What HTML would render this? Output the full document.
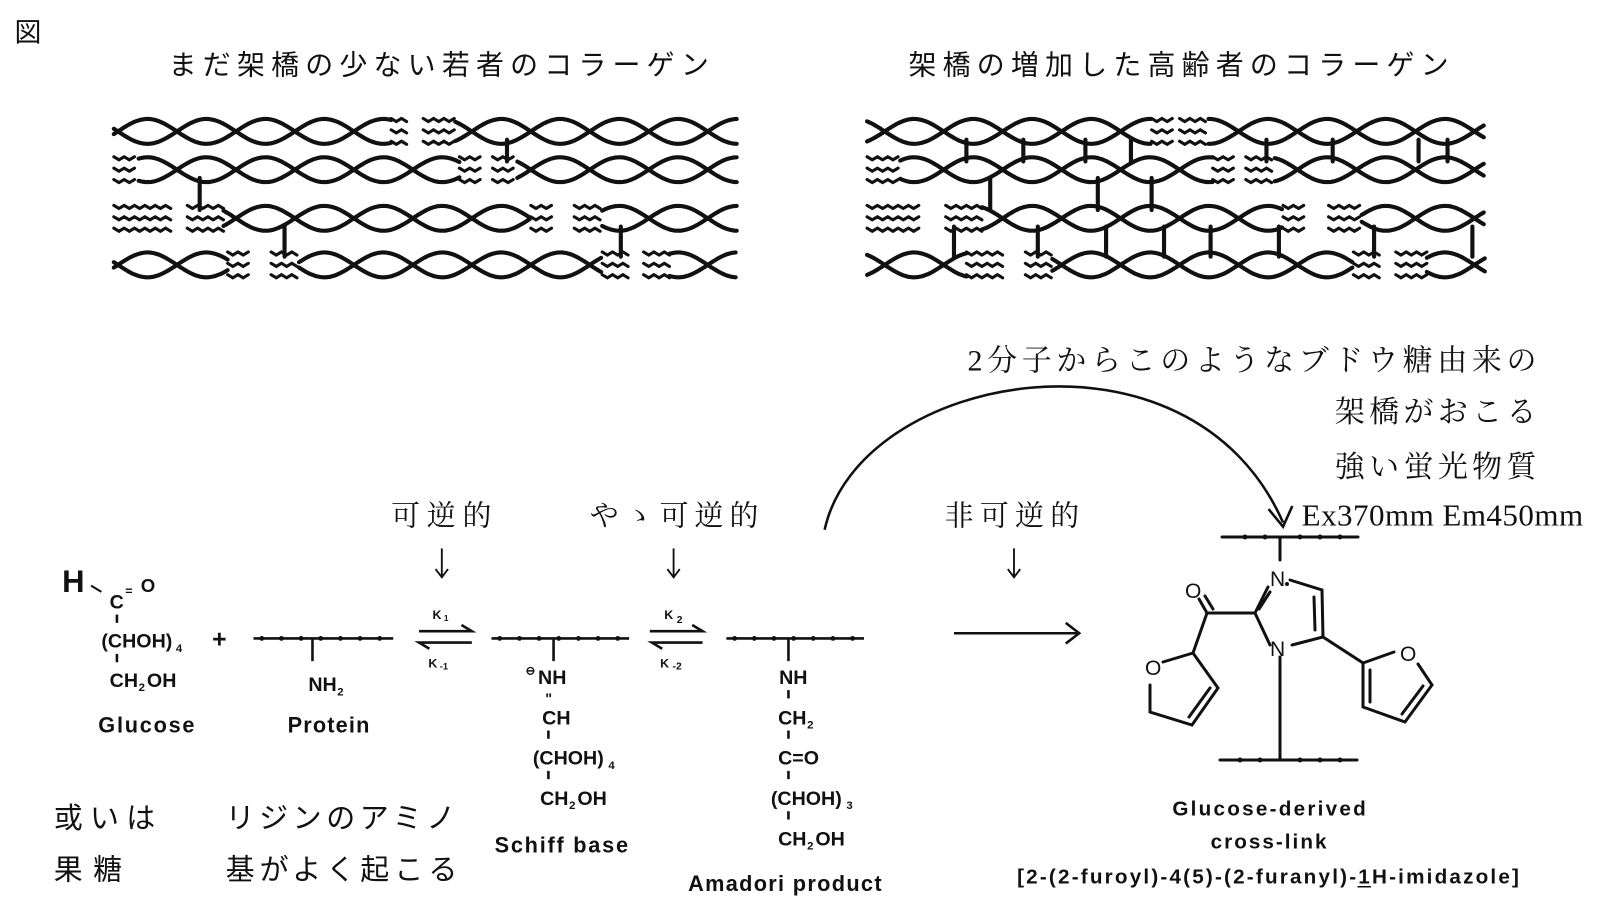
<!DOCTYPE html>
<html><head><meta charset="utf-8">
<style>
html,body{margin:0;padding:0;background:#fff;}
svg{display:block;}
.jp{font-family:"Liberation Sans","Noto Sans CJK JP",sans-serif;fill:#111;}
.js{font-family:"Liberation Serif","Noto Serif CJK SC",serif;fill:#111;}
.ch{font-family:"Liberation Sans",sans-serif;fill:#111;font-weight:bold;}
</style></head>
<body>
<svg id="s" width="1610" height="916" viewBox="0 0 1610 916" xmlns="http://www.w3.org/2000/svg">
<g id="est" transform="scale(1.0347)">
<text class="jp" x="14" y="40" font-size="26">図</text>
<text class="jp" x="163" y="72" font-size="27" textLength="522">まだ架橋の少ない若者のコラーゲン</text>
<text class="jp" x="878" y="72" font-size="27" textLength="522">架橋の増加した高齢者のコラーゲン</text>
<g id="ropes" stroke="#111" stroke-width="4" fill="none" stroke-linecap="round"></g>

<text class="js" x="935" y="358" font-size="29" textLength="550">2分子からこのようなブドウ糖由来の</text>
<text class="js" x="1290" y="408" font-size="29" textLength="195">架橋がおこる</text>
<text class="js" x="1290" y="461" font-size="29" textLength="195">強い蛍光物質</text>
<text class="js" x="1258" y="508" font-size="30" textLength="272">Ex370mm Em450mm</text>
<path d="M797,512 C830,360 1150,300 1240,505" stroke="#111" stroke-width="2.5" fill="none"/>
<path d="M1226,492 L1240,509 L1249,489" stroke="#111" stroke-width="2.5" fill="none"/>

<text class="js" x="378" y="508" font-size="28" textLength="97">可逆的</text>
<text class="js" x="570" y="508" font-size="28" textLength="163">やゝ可逆的</text>
<text class="js" x="913" y="508" font-size="28" textLength="130">非可逆的</text>
<g stroke="#111" stroke-width="1.8" fill="none">
<path d="M427,530 V558 M421,550 L427,558 L433,550"/>
<path d="M651,530 V558 M645,550 L651,558 L657,550"/>
<path d="M980,530 V558 M974,550 L980,558 L986,550"/>
</g>

<text class="jp" x="52" y="800" font-size="28" textLength="98">或いは</text>
<text class="jp" x="52" y="850" font-size="28" textLength="66">果糖</text>
<text class="jp" x="218" y="800" font-size="28" textLength="222">リジンのアミノ</text>
<text class="jp" x="218" y="850" font-size="28" textLength="224">基がよく起こる</text>

<!-- Glucose -->
<text class="ch" x="60" y="572" font-size="30" font-weight="normal">H</text>
<path d="M88,566 L98,572" stroke="#111" stroke-width="2"/>
<text class="ch" x="106" y="588" font-size="19">C</text>
<text class="ch" x="121" y="575" font-size="12">=</text>
<text class="ch" x="136" y="572" font-size="18">O</text>
<path d="M113,594 V602 M113,632 V640" stroke="#111" stroke-width="2.5"/>
<text class="ch" x="98" y="626" font-size="19">(CHOH)</text>
<text class="ch" x="170" y="630" font-size="11">4</text>
<text class="ch" x="106" y="664" font-size="19">CH</text>
<text class="ch" x="134" y="668" font-size="11">2</text>
<text class="ch" x="142" y="664" font-size="19">OH</text>
<text class="ch" x="95" y="708" font-size="21" font-weight="normal" textLength="93">Glucose</text>
<text class="ch" x="205" y="626" font-size="24" font-weight="normal">+</text>

<g id="chains" stroke="#111" stroke-width="2.5" fill="#111"></g>
<text class="ch" x="298" y="668" font-size="19">NH</text>
<text class="ch" x="326" y="672" font-size="11">2</text>
<text class="ch" x="278" y="708" font-size="21" font-weight="normal" textLength="79">Protein</text>

<text class="ch" x="418" y="598" font-size="12">K</text><text class="ch" x="429" y="600" font-size="8">1</text>
<text class="ch" x="414" y="645" font-size="12">K</text><text class="ch" x="425" y="647" font-size="9">-1</text>
<g stroke="#111" stroke-width="2.5" fill="none">
<path d="M405,610 H456 L446,604"/>
<path d="M456,621 H405 L415,627"/>
<path d="M628,610 H679 L669,604"/>
<path d="M679,621 H630 L640,627"/>
</g>
<text class="ch" x="642" y="598" font-size="12">K</text><text class="ch" x="654" y="602" font-size="10">2</text>
<text class="ch" x="638" y="645" font-size="12">K</text><text class="ch" x="650" y="647" font-size="10">-2</text>

<!-- Schiff -->
<text class="ch" x="508" y="652" font-size="11">⊖</text>
<text class="ch" x="520" y="661" font-size="19">NH</text>
<text class="ch" x="527" y="680" font-size="14">"</text>
<text class="ch" x="524" y="700" font-size="19">CH</text>
<path d="M530,706 V714 M530,745 V753" stroke="#111" stroke-width="2.5"/>
<text class="ch" x="515" y="739" font-size="19">(CHOH)</text>
<text class="ch" x="588" y="743" font-size="11">4</text>
<text class="ch" x="522" y="778" font-size="19">CH</text>
<text class="ch" x="550" y="782" font-size="11">2</text>
<text class="ch" x="558" y="778" font-size="19">OH</text>
<text class="ch" x="478" y="824" font-size="21" font-weight="normal" textLength="129">Schiff base</text>

<!-- Amadori -->
<text class="ch" x="753" y="661" font-size="19">NH</text>
<path d="M762,667 V675 M762,706 V714 M762,745 V753 M762,784 V792" stroke="#111" stroke-width="2.5"/>
<text class="ch" x="752" y="700" font-size="19">CH</text>
<text class="ch" x="780" y="704" font-size="11">2</text>
<text class="ch" x="752" y="739" font-size="19">C=O</text>
<text class="ch" x="745" y="778" font-size="19">(CHOH)</text>
<text class="ch" x="818" y="782" font-size="11">3</text>
<text class="ch" x="752" y="817" font-size="19">CH</text>
<text class="ch" x="780" y="821" font-size="11">2</text>
<text class="ch" x="788" y="817" font-size="19">OH</text>
<text class="ch" x="665" y="861" font-size="21" font-weight="normal" textLength="187">Amadori product</text>

<path d="M922,612 H1043 M1030,602 L1043,612 L1030,622" stroke="#111" stroke-width="2.5" fill="none"/>

<text class="ch" x="1133" y="788" font-size="20" font-weight="normal" textLength="187">Glucose-derived</text>
<text class="ch" x="1170" y="820" font-size="20" font-weight="normal" textLength="112">cross-link</text>
<text class="ch" x="983" y="854" font-size="20" font-weight="normal" textLength="485">[2-(2-furoyl)-4(5)-(2-furanyl)-1H-imidazole]</text>
<path d="M1312,857 H1325" stroke="#111" stroke-width="1.5"/>
</g>

<g stroke="#111" stroke-width="3" fill="none" stroke-linecap="round">
<path d="M1222,537 H1358"/>
<path d="M1280,537 V560"/>
<path d="M1290,580 L1322,590 L1323,637 L1292,645"/>
<path d="M1314,597 L1315,630"/>
<path d="M1270,645 L1255,613 L1268,587"/>
<path d="M1259,609 L1270,592"/>
<path d="M1255,613 H1207"/>
<path d="M1207,613 L1199,599 M1213,609 L1205,596"/>
<path d="M1207,613 L1193,653 L1218,688 L1192,725 L1150,712 L1150,685"/>
<path d="M1163,662 L1193,653"/>
<path d="M1210,688 L1189,717"/>
<path d="M1323,637 L1363,663 L1363,707 L1405,722 L1432,685 L1418,664"/>
<path d="M1363,663 L1394,652"/>
<path d="M1370,670 L1370,702"/>
<path d="M1402,714 L1423,686"/>
<path d="M1280,657 V760"/>
<path d="M1220,760 H1357"/>
</g>
<g fill="#111" font-family="Liberation Sans,sans-serif" font-size="21">
<text x="1270" y="586">N</text><circle cx="1287" cy="584" r="2"/>
<text x="1270" y="656">N</text>
<text x="1185" y="598">O</text>
<text x="1145" y="675">O</text>
<text x="1400" y="661">O</text>
</g>
<g fill="#111">
<circle cx="1245" cy="537" r="2.5"/><circle cx="1265" cy="537" r="2.5"/><circle cx="1300" cy="537" r="2.5"/><circle cx="1320" cy="537" r="2.5"/><circle cx="1340" cy="537" r="2.5"/>
<circle cx="1240" cy="760" r="2.5"/><circle cx="1260" cy="760" r="2.5"/><circle cx="1300" cy="760" r="2.5"/><circle cx="1320" cy="760" r="2.5"/><circle cx="1340" cy="760" r="2.5"/>
</g>
</svg>
<script>
(function(){
var NS="http://www.w3.org/2000/svg";
var g=document.getElementById("ropes");
function P(d,w){var p=document.createElementNS(NS,"path");p.setAttribute("d",d);if(w)p.setAttribute("stroke-width",w);g.appendChild(p);}
var A=12,L=114;
function rope(x1,x2,y){
  for(var ph=0;ph<2;ph++){
    var d="";
    for(var x=x1;x<=x2;x+=2){
      var yy=y+A*Math.sin((x/L)*2*Math.PI+ph*Math.PI);
      d+=(x==x1?"M":"L")+x+","+yy.toFixed(1);
    }
    P(d);
  }
}
function fray(x1,x2,y){
  for(var k=-1;k<=1;k++){
    var d="",yy=y+k*11;
    for(var x=x1,i=0;x<=x2;x+=5,i++){
      d+=(i==0?"M":"L")+x+","+(yy+(i%2?1.5:-1.5));
    }
    P(d,3);
  }
}
function link(x,y1,y2){P("M"+x+","+(y1+8)+" V"+(y2-8));}
var Y=[127,164,211,256];
[[[0,110,378],[1,378,397],[1,409,440],[0,440,712]],
 [[1,110,134],[0,134,444],[1,444,464],[1,476,500],[0,500,712]],
 [[1,110,165],[1,181,216],[0,216,513],[1,513,537],[1,555,582],[0,582,712]],
 [[0,110,220],[1,220,242],[1,262,289],[0,289,582],[1,582,610],[1,622,647],[0,647,712]]
].forEach(function(r,i){r.forEach(function(s){(s[0]?fray:rope)(s[1],s[2],Y[i]);});});
link(490,Y[0],Y[1]);link(193,Y[1],Y[2]);link(275,Y[2],Y[3]);link(600,Y[2],Y[3]);
[[[0,838,1113],[1,1113,1133],[1,1140,1168],[0,1168,1435]],
 [[1,838,870],[0,870,1172],[1,1172,1192],[1,1204,1232],[0,1232,1435]],
 [[1,838,890],[1,914,949],[0,949,1240],[1,1240,1264],[1,1284,1316],[0,1316,1435]],
 [[0,838,934],[1,934,969],[1,991,1017],[0,1017,1308],[1,1308,1335],[1,1349,1379],[0,1379,1435]]
].forEach(function(r,i){r.forEach(function(s){(s[0]?fray:rope)(s[1],s[2],Y[i]);});});
[934,989,1049,1093,1224,1288,1371,1399].forEach(function(x){link(x,Y[0],Y[1]);});
[957,1061,1113].forEach(function(x){link(x,Y[1],Y[2]);});
[922,1003,1069,1125,1170,1236,1328,1423].forEach(function(x){link(x,Y[2],Y[3]);});
var c=document.getElementById("chains");
function chain(x1,x2,y,xv){
  var p=document.createElementNS(NS,"path");p.setAttribute("d","M"+x1+","+y+" H"+x2+" M"+xv+","+y+" V"+(y+22));c.appendChild(p);
  for(var x=x1+8;x<x2;x+=19){var ci=document.createElementNS(NS,"circle");ci.setAttribute("cx",x);ci.setAttribute("cy",y);ci.setAttribute("r",2.3);ci.setAttribute("stroke","none");c.appendChild(ci);}
}
chain(245,380,617,302);chain(475,608,617,535);chain(702,835,617,762);
})();
</script>
</body></html>
